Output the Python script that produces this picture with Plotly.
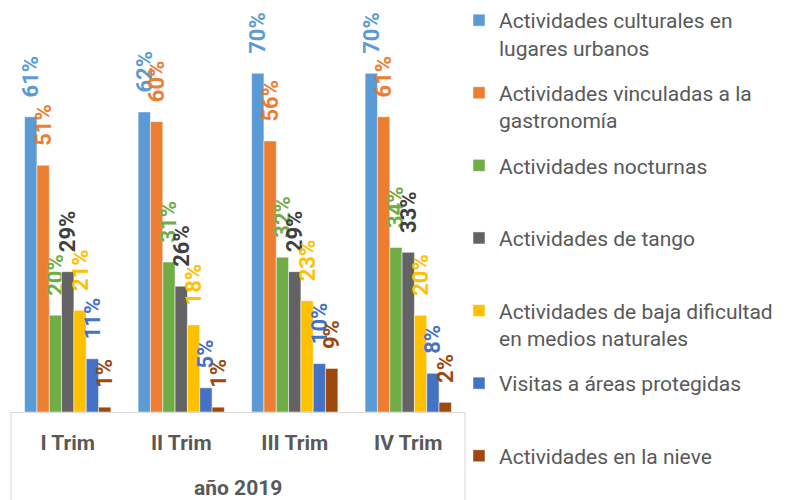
import plotly.graph_objects as go

quarters = ["I Trim", "II Trim", "III Trim", "IV Trim"]
group_label = "año 2019"

series_names = [
    "Actividades culturales en<br>lugares urbanos",
    "Actividades vinculadas a la<br>gastronomía",
    "Actividades nocturnas<br> ",
    "Actividades de tango<br> ",
    "Actividades de baja dificultad<br>en medios naturales",
    "Visitas a áreas protegidas<br> ",
    "Actividades en la nieve",
]
culturales = [61, 62, 70, 70]
gastronomia = [51, 60, 56, 61]
nocturnas = [20, 31, 32, 34]
tango = [29, 26, 29, 33]
baja_dificultad = [21, 18, 23, 20]
areas_protegidas = [11, 5, 10, 8]
nieve = [1, 1, 9, 2]
series_values = [culturales, gastronomia, nocturnas, tango,
                 baja_dificultad, areas_protegidas, nieve]

colors = ["#5B9BD5", "#ED7D31", "#70AD47", "#636363", "#FFC000", "#4472C4", "#9E480E"]
label_colors = ["#5B9BD5", "#ED7D31", "#70AD47", "#404040", "#FFC000", "#4472C4", "#9E480E"]

fig = go.Figure()
for i, (name, vals) in enumerate(zip(series_names, series_values)):
    fig.add_trace(go.Bar(
        x=quarters,
        y=vals,
        name=name,
        legendgroup=str(i),
        marker=dict(color=colors[i], line=dict(color="white", width=0.5)),
        texttemplate="   %{y}%",
        textposition="outside",
        textangle=-90,
        constraintext="none",
        cliponaxis=False,
        textfont=dict(family="Roboto", size=22, color=label_colors[i], weight="bold"),
        hoverinfo="skip",
    ))

axis_color = "#D9D9D9"
bottom = -88 / 392
fig.add_shape(type="line", xref="paper", yref="paper", x0=0, x1=0, y0=0, y1=bottom,
              line=dict(color=axis_color, width=1))
fig.add_shape(type="line", xref="paper", yref="paper", x0=1, x1=1, y0=0, y1=bottom,
              line=dict(color=axis_color, width=1))
fig.add_annotation(text=group_label, xref="paper", yref="paper", x=0.5, y=-(488 - 412) / 392,
                   yanchor="middle", showarrow=False,
                   font=dict(family="Roboto", size=21, color="#595959", weight="bold"))

fig.update_layout(
    width=796, height=500,
    margin=dict(l=11, r=331, t=20, b=88, autoexpand=False),
    paper_bgcolor="white", plot_bgcolor="white",
    barmode="group", bargap=0.24, bargroupgap=0,
    showlegend=True,
    legend=dict(
        xref="container", yref="container",
        x=459 / 796, y=1 + 8 / 500,
        xanchor="left", yanchor="top",
        font=dict(family="Roboto", size=21, color="#595959"),
        tracegroupgap=15, valign="top",
        traceorder="grouped",
        bgcolor="rgba(0,0,0,0)",
        maxheight=520,
    ),
    xaxis=dict(
        type="category", automargin=False,
        showline=True, linecolor=axis_color, linewidth=1,
        tickfont=dict(family="Roboto", size=21, color="#595959", weight="bold"),
        ticks="", ticklabelstandoff=12,
    ),
    yaxis=dict(range=[0, 81], visible=False, showgrid=False, zeroline=False, automargin=False),
)

fig.write_html("out.html", config={"displayModeBar": False},
               post_script="document.body.style.margin='0px';")
